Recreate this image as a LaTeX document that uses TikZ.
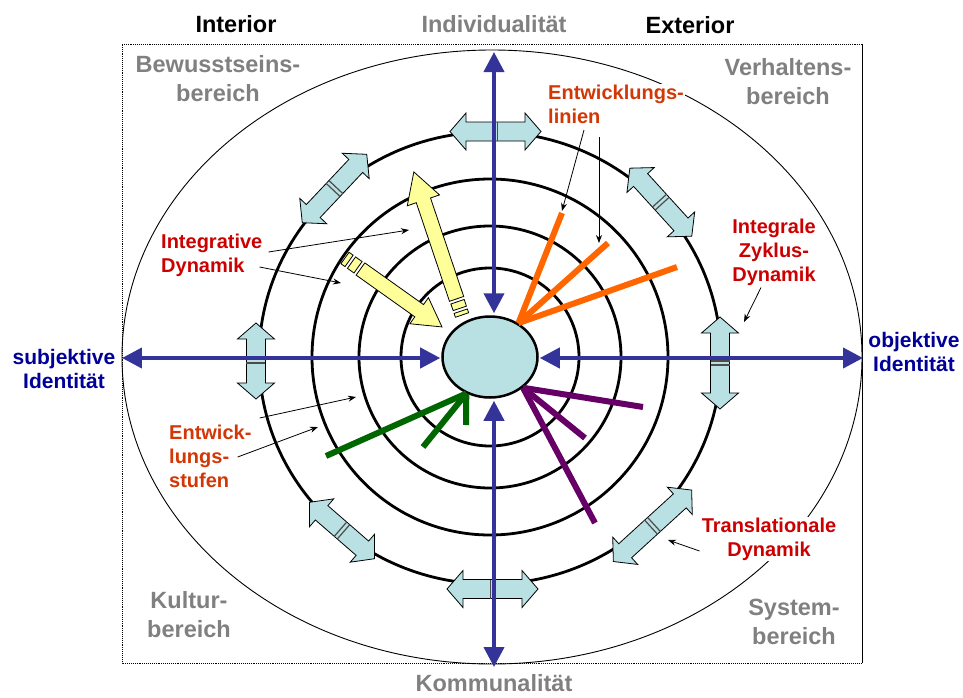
\documentclass[tikz,border=0pt]{standalone}
\usepackage{fontspec}
\setmainfont{Liberation Sans}
\usetikzlibrary{arrows.meta,shapes.geometric,positioning}

\definecolor{areagray}{RGB}{128,128,128}
\definecolor{dynred}{RGB}{204,0,0}
\definecolor{stageorange}{RGB}{210,55,5}
\definecolor{polenavy}{RGB}{0,0,153}
\definecolor{axisblue}{RGB}{51,51,153}
\definecolor{lightcyan}{RGB}{185,224,227}
\definecolor{paleyellow}{RGB}{255,255,153}
\definecolor{lineorange}{RGB}{255,102,0}
\definecolor{linepurple}{RGB}{102,0,102}
\definecolor{linegreen}{RGB}{0,102,0}

\begin{document}
\begin{tikzpicture}[x=1pt,y=1pt,
	axis/.style={draw=axisblue, line width=4pt, {Triangle[length=20pt,width=20pt]}-{Triangle[length=20pt,width=20pt]}},
	ring/.style={line width=2.8pt},
	twoway/.style={draw=black, line width=0.8pt, fill=lightcyan},
	cut/.style={draw=black!70, line width=1.2pt},
	spoke/.style={line width=6pt},
	yarrow/.style={draw=black, line width=0.8pt, fill=paleyellow},
	note/.style={draw=black, line width=0.8pt, -{Stealth[length=8pt,width=6pt]}},
	side/.style={font=\fontsize{23.5}{29}\selectfont\bfseries, inner sep=0pt},
	quad/.style={font=\fontsize{23.5}{29}\selectfont\bfseries, text=areagray, align=center, inner sep=0pt},
	pole/.style={font=\fontsize{21}{24.5}\selectfont\bfseries, text=polenavy, align=center, inner sep=0pt},
	dyn/.style={font=\fontsize{20}{24}\selectfont\bfseries, text=dynred, align=center, inner sep=1pt},
	stage/.style={font=\fontsize{20}{24}\selectfont\bfseries, text=stageorange, align=left, inner sep=1pt}]
	\useasboundingbox (-490,-340) rectangle (473,357);

	% frame and outer ellipse
	\draw[line width=0.9pt] (2,0) ellipse [x radius=370, y radius=307];
	\draw[densely dotted, line width=0.9pt] (372,313) -- (-368,313) -- (-368,-306) -- (372,-306);
	\draw[line width=0.9pt] (372,313) -- (372,-306);

	% rings
	\foreach \r in {89,131,178}
		\draw[ring] (0,0) circle [radius=\r];
	\draw[ring] (0,-1) ellipse [x radius=231, y radius=226];

	% two-way arrows on the outer ring
	\foreach \px/\py/\ang/\l in {5.5/225.5/0/45.5, -155.5/168.5/46.7/47, 170.8/154.8/-47.7/46,
			-234/-4/90/38, 230/-6/90/46, 2.5/-232/0/45.5, -148/-173.5/-41/43, 162.5/-168.8/42.4/53}
	{
		\begin{scope}[shift={(\px,\py)}, rotate=\ang]
			\draw[twoway] (-\l,0) -- (-\l+16,18.5) -- (-\l+16,9.5) -- (\l-16,9.5) -- (\l-16,18.5) -- (\l,0)
				-- (\l-16,-18.5) -- (\l-16,-9.5) -- (-\l+16,-9.5) -- (-\l+16,-18.5) -- cycle;
			\draw[cut] (-2,-9.5) -- (-2,9.5) (2,-9.5) -- (2,9.5);
		\end{scope}
	}

	% centre
	\node[draw, ellipse, line width=2.5pt, fill=lightcyan, minimum width=95pt, minimum height=81pt, inner sep=0pt] (core) at (0,0) {};

	% lines and stages
	\draw[spoke, draw=lineorange] (core.50) -- (72,144);
	\draw[spoke, draw=lineorange] (core.50) -- (118,114);
	\draw[spoke, draw=lineorange] (core.50) -- (187,90);
	\draw[spoke, draw=linepurple] (core.-43) -- (153,-50);
	\draw[spoke, draw=linepurple] (core.-43) -- (95,-81);
	\draw[spoke, draw=linepurple] (core.-43) -- (105,-166);
	\draw[spoke, draw=linegreen] (core.-123) -- (-164,-99);
	\draw[spoke, draw=linegreen] (core.-123) -- (-67,-90);
	\draw[spoke, draw=linegreen] (core.-123) -- (-24,-68);

	% integrative arrows
	\begin{scope}[shift={(-28,42)}, rotate=108.6]
		\draw[yarrow] (0,-7) rectangle (4,7);
		\draw[yarrow] (7,-7) rectangle (14,7);
		\draw[yarrow] (17,-7.5) -- (121,-7.5) -- (121,-17) -- (151,0) -- (121,17) -- (121,7.5) -- (17,7.5) -- cycle;
	\end{scope}
	\begin{scope}[shift={(-145,99)}, rotate=-35.4]
		\draw[yarrow] (0,-7) rectangle (5,7);
		\draw[yarrow] (8,-7) rectangle (16,7);
		\draw[yarrow] (19,-7.5) -- (91,-7.5) -- (91,-16) -- (119,0) -- (91,16) -- (91,7.5) -- (19,7.5) -- cycle;
	\end{scope}

	% axes
	\coordinate (indivtip) at (4,305);
	\coordinate (kommuntip) at (4,-310);
	\coordinate (subjtip) at (-368,-1);
	\coordinate (objtip) at (373,-1);
	\draw[axis, shorten >=2pt] (indivtip) -- (indivtip |- core.north);
	\draw[axis, shorten >=2pt] (kommuntip) -- (kommuntip |- core.south);
	\draw[axis, shorten >=1pt] (subjtip) -- (subjtip -| core.west);
	\draw[axis, shorten >=1pt] (objtip) -- (objtip -| core.east);

	% labels
	\node[side] (interior) at (-254,333) {Interior};
	\node[quad] (indiv) at (4,333) {Individualität};
	\node[side] (exterior) at (200,332) {Exterior};
	\node[quad] (bewusst) at (-272,278) {Bewusstseins-\\bereich};
	\node[quad] (verhalt) at (298,275) {Verhaltens-\\bereich};
	\node[quad] (kultur) at (-301,-258) {Kultur-\\bereich};
	\node[quad] (system) at (304,-265) {System-\\bereich};
	\node[quad] (kommun) at (4,-326) {Kommunalität};
	\node[pole] (subj) at (-426,-12) {subjektive\\Identität};
	\node[pole] (obj) at (424,5) {objektive\\Identität};
	\node[stage, fill=white, anchor=west] (entlin) at (57,252.5) {Entwicklungs-\\linien};
	\node[stage, anchor=west] (entstuf) at (-322,-99) {Entwick-\\lungs-\\stufen};
	\node[dyn] (intzyk) at (284,105) {Integrale\\Zyklus-\\Dynamik};
	\node[dyn, align=left, anchor=west] (intdyn) at (-330,102) {Integrative\\Dynamik};
	\node[dyn, fill=white] (transdyn) at (279,-182) {Translationale\\Dynamik};

	% pointers
	\draw[note] ([shift={(5,3)}]intdyn.east) -- (-81,127);
	\draw[note] ([shift={(-4,-12)}]intdyn.east) -- (-149,74);
	\draw[note] ([shift={(37,-5)}]entlin.south west) -- (72,146);
	\draw[note] ([shift={(52,-12)}]entlin.south west) -- (109,114);
	\draw[note] ([shift={(-13,-1)}]intzyk.south) -- (254,35);
	\draw[note] ([shift={(7,38)}]entstuf.east) -- (-134,-40);
	\draw[note] ([shift={(-15,-1)}]entstuf.east) -- (-172,-70);
	\draw[note] ([shift={(-1,-12)}]transdyn.west) -- (178,-183);
\end{tikzpicture}
\end{document}
